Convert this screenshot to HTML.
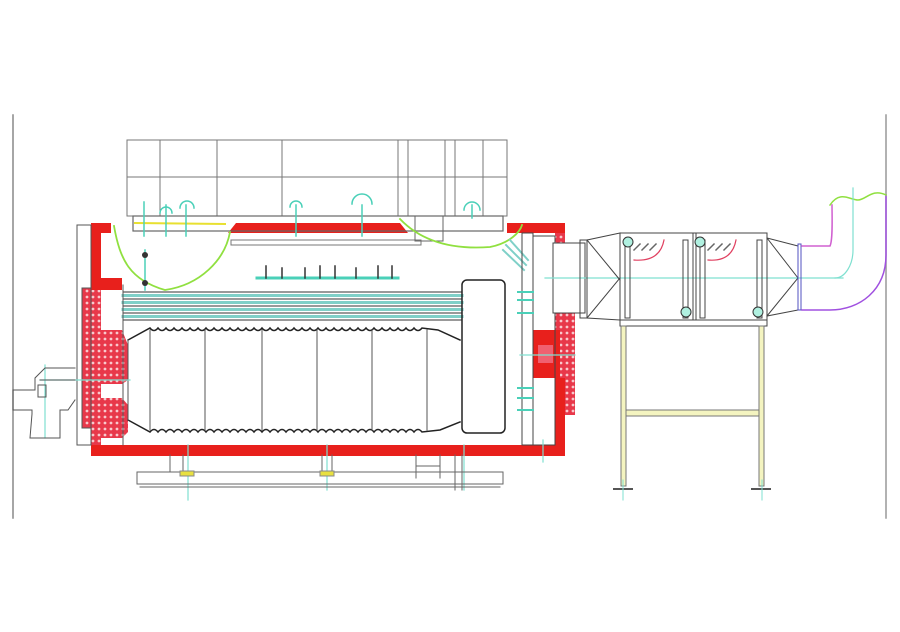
<!DOCTYPE html>
<html><head><meta charset="utf-8"><style>html,body{margin:0;padding:0;background:#fff}svg{display:block}</style></head>
<body>
<svg width="900" height="632" viewBox="0 0 900 632" xmlns="http://www.w3.org/2000/svg">
<defs>
<pattern id="brick" width="6" height="6" patternUnits="userSpaceOnUse"><rect width="6" height="6" fill="#e8384a"/><circle cx="3" cy="3" r="1.4" fill="#f8c8cc"/></pattern>
</defs>
<g fill="none" stroke-linecap="square">
<!-- frame lines -->
<line x1="13" y1="115" x2="13" y2="518" stroke="#888" stroke-width="1.5"/>
<line x1="886" y1="115" x2="886" y2="518" stroke="#999" stroke-width="1.5"/>

<!-- top cover box -->
<rect x="127" y="140" width="380" height="76" stroke="#777" stroke-width="1"/>
<line x1="127" y1="177" x2="507" y2="177" stroke="#777"/>
<g stroke="#777"><line x1="160" y1="140" x2="160" y2="216"/><line x1="217" y1="140" x2="217" y2="216"/><line x1="282" y1="140" x2="282" y2="216"/><line x1="398" y1="140" x2="398" y2="216"/><line x1="408" y1="140" x2="408" y2="216"/><line x1="445" y1="140" x2="445" y2="216"/><line x1="455" y1="140" x2="455" y2="216"/><line x1="483" y1="140" x2="483" y2="216"/></g>

<!-- red shell -->
<path d="M91 223 H111 V233 H101 V278 H122 V290 H91 Z" fill="#e8201c" stroke="none"/>
<rect x="91" y="290" width="10" height="155" fill="url(#brick)"/>
<rect x="91" y="445" width="474" height="11" fill="#e8201c"/>
<path d="M236 223 H400 L408 233 H228 Z" fill="#e8201c"/>
<rect x="507" y="223" width="58" height="10" fill="#e8201c"/>
<rect x="555" y="233" width="10" height="10" fill="url(#brick)"/>
<rect x="555" y="313" width="20" height="102" fill="url(#brick)"/>
<rect x="533" y="330" width="27" height="48" fill="#e8201c"/>
<rect x="538" y="345" width="15" height="18" fill="#f06070"/>
<rect x="555" y="378" width="10" height="70" fill="#e8201c"/>
<!-- left burner refractory -->
<path d="M101 330 H122 L128 345 V380 L122 384 H101 Z" fill="url(#brick)"/>
<path d="M101 398 H122 L128 405 V432 L122 438 H101 Z" fill="url(#brick)"/>
<rect x="82" y="288" width="9" height="140" fill="url(#brick)" stroke="#555"/>
<rect x="77" y="225" width="14" height="220" stroke="#555"/>

<!-- top plate -->
<rect x="133" y="216" width="370" height="15" stroke="#666" stroke-width="1.2"/>
<line x1="135" y1="223" x2="225" y2="224" stroke="#e8e030" stroke-width="2"/>
<rect x="231" y="240" width="190" height="5" stroke="#777"/>
<rect x="415" y="216" width="28" height="25" stroke="#666"/>
<!-- green curves -->
<path d="M114 226 C120 260 130 280 165 290 C200 285 225 260 230 232" stroke="#90e040" stroke-width="1.8"/>
<path d="M400 219 C420 240 450 250 490 247 C510 243 520 232 522 225" stroke="#90e040" stroke-width="1.8"/>
<g stroke="#7fd0c8" stroke-width="2"><line x1="510" y1="240" x2="528" y2="260"/><line x1="506" y1="245" x2="526" y2="265"/><line x1="503" y1="250" x2="524" y2="270"/></g>

<!-- nozzles on top -->
<g stroke="#4ad0b8" stroke-width="1.5">
<line x1="144" y1="202" x2="144" y2="236"/><line x1="166" y1="205" x2="166" y2="236"/><line x1="186" y1="205" x2="186" y2="236"/>
<path d="M160 213 a6 6 0 0 1 12 0"/><path d="M180 208 a7 7 0 0 1 14 0"/>
<line x1="296" y1="205" x2="296" y2="236"/><path d="M290 207 a6 6 0 0 1 12 0"/>
<line x1="362" y1="205" x2="362" y2="236"/><path d="M352 204 a10 10 0 0 1 20 0"/>
<path d="M464 210 a8 8 0 0 1 16 0"/><line x1="472" y1="205" x2="472" y2="218"/>
<line x1="145" y1="250" x2="145" y2="290"/>
</g>
<circle cx="145" cy="255" r="3" fill="#333"/><circle cx="145" cy="283" r="3" fill="#333"/>
<!-- steam distributor -->
<line x1="257" y1="278" x2="398" y2="278" stroke="#4ad0b8" stroke-width="3"/>
<g stroke="#333" stroke-width="1.5"><line x1="266" y1="266" x2="266" y2="278"/><line x1="282" y1="268" x2="282" y2="278"/><line x1="305" y1="268" x2="305" y2="278"/><line x1="320" y1="266" x2="320" y2="278"/><line x1="335" y1="266" x2="335" y2="278"/><line x1="356" y1="268" x2="356" y2="278"/><line x1="378" y1="266" x2="378" y2="278"/><line x1="392" y1="266" x2="392" y2="278"/></g>

<!-- smoke tubes -->
<g stroke="#333" stroke-width="1"><line x1="123" y1="292" x2="462" y2="292"/><line x1="123" y1="299" x2="462" y2="299"/><line x1="123" y1="306" x2="462" y2="306"/><line x1="123" y1="313" x2="462" y2="313"/><line x1="123" y1="320" x2="462" y2="320"/></g>
<g stroke="#7fd0c8" stroke-width="3"><line x1="123" y1="295.5" x2="462" y2="295.5"/><line x1="123" y1="302.5" x2="462" y2="302.5"/><line x1="123" y1="309.5" x2="462" y2="309.5"/><line x1="123" y1="316.5" x2="462" y2="316.5"/></g>
<line x1="123" y1="285" x2="123" y2="445" stroke="#555"/>

<!-- corrugated furnace -->
<path id="corr" d="M128 340 L150 328 Q154 333 158 328 Q162 333 166 328 Q170 333 174 328 Q178 333 182 328 Q186 333 190 328 Q194 333 198 328 Q202 333 206 328 Q210 333 214 328 Q218 333 222 328 Q226 333 230 328 Q234 333 238 328 Q242 333 246 328 Q250 333 254 328 Q258 333 262 328 Q266 333 270 328 Q274 333 278 328 Q282 333 286 328 Q290 333 294 328 Q298 333 302 328 Q306 333 310 328 Q314 333 318 328 Q322 333 326 328 Q330 333 334 328 Q338 333 342 328 Q346 333 350 328 Q354 333 358 328 Q362 333 366 328 Q370 333 374 328 Q378 333 382 328 Q386 333 390 328 Q394 333 398 328 Q402 333 406 328 Q410 333 414 328 Q418 333 422 328 L438 330 L460 340" stroke="#222" stroke-width="1.5"/>
<path d="M128 420 L150 432 Q154 427 158 432 Q162 427 166 432 Q170 427 174 432 Q178 427 182 432 Q186 427 190 432 Q194 427 198 432 Q202 427 206 432 Q210 427 214 432 Q218 427 222 432 Q226 427 230 432 Q234 427 238 432 Q242 427 246 432 Q250 427 254 432 Q258 427 262 432 Q266 427 270 432 Q274 427 278 432 Q282 427 286 432 Q290 427 294 432 Q298 427 302 432 Q306 427 310 432 Q314 427 318 432 Q322 427 326 432 Q330 427 334 432 Q338 427 342 432 Q346 427 350 432 Q354 427 358 432 Q362 427 366 432 Q370 427 374 432 Q378 427 382 432 Q386 427 390 432 Q394 427 398 432 Q402 427 406 432 Q410 427 414 432 Q418 427 422 432 L440 430 L460 422" stroke="#222" stroke-width="1.5"/>
<g stroke="#555"><line x1="150" y1="330" x2="150" y2="430"/><line x1="205" y1="330" x2="205" y2="430"/><line x1="262" y1="330" x2="262" y2="430"/><line x1="317" y1="330" x2="317" y2="430"/><line x1="372" y1="330" x2="372" y2="430"/><line x1="427" y1="330" x2="427" y2="430"/><line x1="128" y1="340" x2="128" y2="420"/></g>

<!-- rear chamber -->
<rect x="462" y="280" width="43" height="153" rx="5" stroke="#222" stroke-width="1.5"/>
<rect x="522" y="233" width="11" height="212" stroke="#444"/>
<rect x="533" y="236" width="22" height="209" stroke="#444"/>
<g stroke="#4ad0b8" stroke-width="2"><line x1="518" y1="292" x2="533" y2="292"/><line x1="518" y1="300" x2="533" y2="300"/><line x1="518" y1="313" x2="533" y2="313"/><line x1="518" y1="388" x2="533" y2="388"/><line x1="518" y1="398" x2="533" y2="398"/><line x1="518" y1="410" x2="533" y2="410"/></g>
<rect x="553" y="243" width="32" height="70" fill="#fff" stroke="#444"/>

<!-- centrelines -->
<g stroke="#7fe0d0" stroke-width="1.2">
<line x1="40" y1="380" x2="130" y2="380"/><line x1="520" y1="355" x2="575" y2="355"/>
<line x1="545" y1="278" x2="843" y2="278"/>
<line x1="188" y1="445" x2="188" y2="500"/><line x1="327" y1="445" x2="327" y2="490"/><line x1="464" y1="445" x2="464" y2="490"/><line x1="543" y1="440" x2="543" y2="462"/>
<line x1="45" y1="365" x2="45" y2="438"/>
</g>

<!-- base -->
<rect x="137" y="472" width="366" height="12" stroke="#666"/>
<line x1="140" y1="487" x2="500" y2="487" stroke="#666"/>
<g stroke="#666"><line x1="170" y1="455" x2="170" y2="472"/><line x1="183" y1="455" x2="183" y2="472"/><line x1="322" y1="455" x2="322" y2="472"/><line x1="332" y1="455" x2="332" y2="472"/><line x1="416" y1="455" x2="416" y2="478"/><line x1="440" y1="455" x2="440" y2="478"/><line x1="416" y1="466" x2="440" y2="466"/><line x1="455" y1="455" x2="455" y2="490"/><line x1="462" y1="455" x2="462" y2="490"/></g>
<rect x="180" y="471" width="14" height="5" fill="#e8e040" stroke="#888"/><rect x="320" y="471" width="14" height="5" fill="#e8e040" stroke="#888"/>

<!-- burner -->
<path d="M75 368 H45 L35 378 V390 H13 V410 H32 V414 L30 438 H60 V410 H68 L75 400" stroke="#555"/>
<line x1="40" y1="380" x2="75" y2="380" stroke="#555"/>
<rect x="38" y="385" width="8" height="12" stroke="#555"/>

<!-- economizer duct -->
<rect x="580" y="240" width="7" height="78" stroke="#444"/>
<path d="M587 240 L620 233 M587 318 L620 320 M587 240 L620 280 M587 318 L620 278" stroke="#444"/>
<rect x="620" y="233" width="147" height="87" stroke="#444"/>
<rect x="620" y="320" width="147" height="6" stroke="#444"/>
<line x1="693" y1="233" x2="693" y2="320" stroke="#444"/>
<line x1="696" y1="233" x2="696" y2="320" stroke="#444"/>
<g stroke="#444"><rect x="625" y="240" width="5" height="78"/><rect x="683" y="240" width="5" height="78"/><rect x="700" y="240" width="5" height="78"/><rect x="757" y="240" width="5" height="78"/></g>
<g fill="#b0f0e0" stroke="#333"><circle cx="628" cy="242" r="5"/><circle cx="686" cy="312" r="5"/><circle cx="700" cy="242" r="5"/><circle cx="758" cy="312" r="5"/></g>
<path d="M634 260 Q660 262 664 240 M708 260 Q732 262 736 240" stroke="#e04060" stroke-width="1.2"/>
<g stroke="#666" stroke-width="1.5"><line x1="634" y1="250" x2="640" y2="244"/><line x1="642" y1="250" x2="648" y2="244"/><line x1="650" y1="250" x2="656" y2="244"/><line x1="708" y1="250" x2="714" y2="244"/><line x1="716" y1="250" x2="722" y2="244"/><line x1="724" y1="250" x2="730" y2="244"/></g>
<path d="M767 238 L798 246 M767 316 L798 310 M767 238 L798 278 M767 316 L798 278" stroke="#444"/>
<rect x="798" y="244" width="3" height="66" stroke="#5050c0"/>
<!-- elbow -->
<path d="M802 246 H830 C833 240 832 215 832 205" stroke="#d060d0" stroke-width="1.5"/>
<path d="M802 310 H830 C860 310 886 290 886 255 V195" stroke="#a050e0" stroke-width="1.5"/>
<path d="M830 205 C840 190 850 200 858 200 C866 200 872 188 886 195" stroke="#90e040" stroke-width="1.5"/>
<path d="M853 188 V250 C853 265 845 278 835 278" stroke="#7fe0d0" stroke-width="1.2"/>
<!-- support -->
<g fill="#f4f4c0" stroke="#777"><rect x="621" y="326" width="5" height="160"/><rect x="759" y="326" width="5" height="160"/><rect x="626" y="410" width="133" height="6"/></g>
<line x1="614" y1="489" x2="632" y2="489" stroke="#555" stroke-width="2"/><line x1="752" y1="489" x2="770" y2="489" stroke="#555" stroke-width="2"/>
<line x1="623" y1="480" x2="623" y2="500" stroke="#7fe0d0"/><line x1="762" y1="480" x2="762" y2="500" stroke="#7fe0d0"/>
</g>
</svg>
</body></html>
